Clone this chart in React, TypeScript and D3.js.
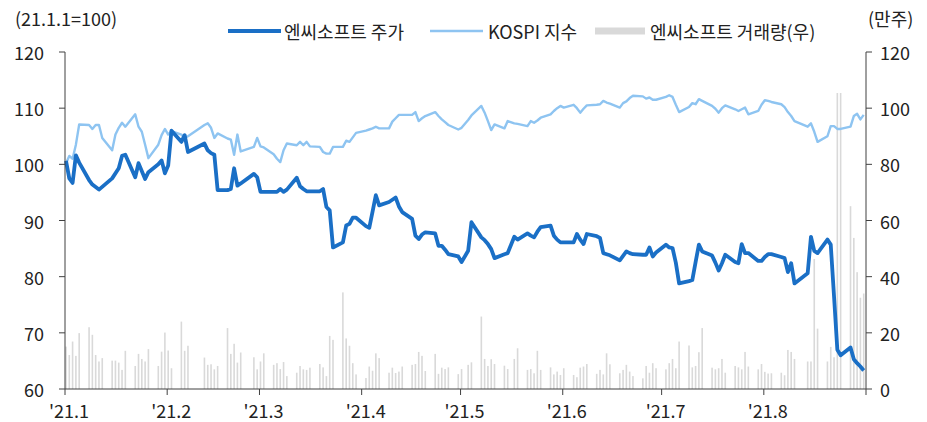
import React from "react";
import * as d3 from "d3";

// ---------- DATA ----------
const holidays = ["2021-02-11", "2021-02-12", "2021-03-01", "2021-05-05", "2021-05-19", "2021-08-16"];
const firstTradingDay = "2021-01-04";
const lastTradingDay = "2021-09-03";

// 엔씨소프트 거래량 (만주), one per trading day Jan 4 – Sep 3
const volume: number[] = [
  15.1, 12.1, 16.9, 11.8, 19.9,
  22.0, 19.3, 12.1, 9.8, 11.0,
  10.1, 10.1, 9.4, 6.8, 13.6,
  8.2, 12.5, 10.7, 9.8, 14.2,
  8.2, 13.3, 20.1, 13.7, 7.4,
  24.0, 13.6, 15.4,
  11.2, 8.6, 8.8, 7.0, 8.2,
  21.7, 12.5, 16.1, 9.4, 13.0,
  11.3, 7.0, 9.8, 12.7,
  8.6, 9.2, 7.1, 9.6, 4.6,
  5.8, 8.2, 7.0, 6.8, 7.6,
  8.9, 7.7, 4.6, 18.9, 17.5,
  34.4, 18.0, 15.4, 9.2, 5.2,
  3.9, 8.0, 6.5, 12.7, 11.0,
  5.8, 7.6, 5.7, 6.2, 8.0,
  8.6, 8.9, 13.2, 11.8, 6.4,
  12.5, 5.4, 7.6, 7.1, 7.7,
  5.3, 7.1, 8.6, 9.5,
  25.8, 10.7, 8.2, 10.6, 8.9,
  8.3, 7.1, 10.7, 14.5,
  6.8, 7.1, 5.6, 13.6, 6.8,
  7.7, 5.2, 6.2, 5.0, 7.4,
  5.0, 4.2, 7.6, 8.0, 8.9,
  5.4, 6.8, 5.2, 12.7, 8.8,
  5.6, 6.8, 8.6, 6.2, 4.6,
  3.8, 8.2, 5.8, 9.2, 7.4,
  7.0, 9.2, 10.7, 7.4, 16.9,
  15.5, 7.7, 8.2, 13.1, 21.7,
  7.6, 7.0, 7.4, 10.7, 5.8,
  8.2, 7.7, 7.0, 13.2, 8.0,
  7.0, 8.9, 6.1, 5.5, 5.6,
  5.8, 4.9, 13.9, 13.2, 10.7,
  9.8, 9.8, 46.3, 21.5,
  9.8, 15.0, 11.3, 105.4, 105.4,
  65.1, 53.8, 41.6, 32.5, 34.0,
];

// 엔씨소프트 주가 (21.1.1=100)
const ncPrice: [string, number][] = [
  ["2021-01-04", 100.6], ["2021-01-05", 97.5], ["2021-01-06", 96.7], ["2021-01-07", 101.6], ["2021-01-08", 100.3],
  ["2021-01-11", 97.2], ["2021-01-12", 96.4], ["2021-01-14", 95.5], ["2021-01-18", 97.5], ["2021-01-20", 99.3],
  ["2021-01-21", 101.5], ["2021-01-22", 101.7], ["2021-01-25", 97.7], ["2021-01-26", 100.2], ["2021-01-28", 97.4],
  ["2021-01-29", 98.6], ["2021-02-01", 100.0], ["2021-02-02", 100.7], ["2021-02-03", 98.4], ["2021-02-04", 99.8],
  ["2021-02-05", 106.0], ["2021-02-08", 104.0], ["2021-02-09", 105.2], ["2021-02-10", 102.2], ["2021-02-15", 103.7],
  ["2021-02-16", 102.5], ["2021-02-17", 102.0], ["2021-02-18", 101.7], ["2021-02-19", 95.4], ["2021-02-22", 95.4],
  ["2021-02-23", 95.6], ["2021-02-24", 99.3], ["2021-02-25", 96.2], ["2021-02-26", 96.6], ["2021-03-02", 98.3],
  ["2021-03-03", 97.7], ["2021-03-04", 95.1], ["2021-03-05", 95.1], ["2021-03-08", 95.1], ["2021-03-09", 95.1],
  ["2021-03-10", 95.6], ["2021-03-11", 95.1], ["2021-03-12", 95.5], ["2021-03-15", 97.6], ["2021-03-16", 96.1],
  ["2021-03-17", 95.6], ["2021-03-18", 95.2], ["2021-03-19", 95.2], ["2021-03-22", 95.2], ["2021-03-23", 95.6],
  ["2021-03-24", 92.4], ["2021-03-25", 91.8], ["2021-03-26", 85.2], ["2021-03-29", 86.1], ["2021-03-30", 89.1],
  ["2021-03-31", 89.4], ["2021-04-01", 90.5], ["2021-04-02", 90.5], ["2021-04-05", 89.0], ["2021-04-06", 88.7],
  ["2021-04-07", 91.6], ["2021-04-08", 94.5], ["2021-04-09", 92.7], ["2021-04-12", 93.3], ["2021-04-13", 93.7],
  ["2021-04-14", 94.1], ["2021-04-15", 92.5], ["2021-04-16", 91.5], ["2021-04-19", 90.3], ["2021-04-20", 87.3],
  ["2021-04-21", 86.7], ["2021-04-22", 87.5], ["2021-04-23", 87.9], ["2021-04-26", 87.7], ["2021-04-27", 85.5],
  ["2021-04-28", 85.5], ["2021-04-29", 84.8], ["2021-04-30", 84.0], ["2021-05-03", 83.6], ["2021-05-04", 82.6],
  ["2021-05-06", 84.6], ["2021-05-07", 89.7], ["2021-05-10", 87.0], ["2021-05-11", 86.5], ["2021-05-12", 85.8],
  ["2021-05-13", 84.9], ["2021-05-14", 83.3], ["2021-05-17", 84.0], ["2021-05-18", 84.2], ["2021-05-20", 87.1],
  ["2021-05-21", 86.6], ["2021-05-24", 87.7], ["2021-05-25", 87.3], ["2021-05-26", 87.0], ["2021-05-27", 88.0],
  ["2021-05-28", 88.8], ["2021-05-31", 89.1], ["2021-06-01", 87.3], ["2021-06-02", 86.6], ["2021-06-03", 86.1],
  ["2021-06-04", 86.1], ["2021-06-07", 86.1], ["2021-06-08", 87.6], ["2021-06-09", 86.6], ["2021-06-10", 85.8],
  ["2021-06-11", 87.6], ["2021-06-14", 87.2], ["2021-06-15", 86.9], ["2021-06-16", 84.2], ["2021-06-17", 84.0],
  ["2021-06-18", 83.8], ["2021-06-21", 82.9], ["2021-06-22", 83.7], ["2021-06-23", 84.5], ["2021-06-24", 84.2],
  ["2021-06-25", 84.0], ["2021-06-28", 83.9], ["2021-06-29", 83.9], ["2021-06-30", 85.2], ["2021-07-01", 83.6],
  ["2021-07-02", 84.3], ["2021-07-05", 85.7], ["2021-07-06", 85.2], ["2021-07-07", 85.1], ["2021-07-08", 82.5],
  ["2021-07-09", 78.8], ["2021-07-12", 79.2], ["2021-07-13", 79.4], ["2021-07-14", 82.6], ["2021-07-15", 85.7],
  ["2021-07-16", 84.5], ["2021-07-19", 83.75], ["2021-07-20", 82.5], ["2021-07-21", 81.1], ["2021-07-22", 82.4],
  ["2021-07-23", 83.9], ["2021-07-26", 82.6], ["2021-07-27", 82.4], ["2021-07-28", 85.8], ["2021-07-29", 84.2],
  ["2021-07-30", 84.2], ["2021-08-02", 82.8], ["2021-08-03", 82.8], ["2021-08-04", 83.5], ["2021-08-05", 84.0],
  ["2021-08-06", 84.0], ["2021-08-09", 83.5], ["2021-08-10", 83.3], ["2021-08-11", 80.8], ["2021-08-12", 82.4],
  ["2021-08-13", 78.8], ["2021-08-17", 80.6], ["2021-08-18", 87.1], ["2021-08-19", 84.6], ["2021-08-20", 84.2],
  ["2021-08-23", 86.6], ["2021-08-24", 85.7], ["2021-08-25", 76.5], ["2021-08-26", 67.0], ["2021-08-27", 66.0],
  ["2021-08-30", 67.4], ["2021-08-31", 65.3], ["2021-09-01", 64.6], ["2021-09-02", 64.0], ["2021-09-03", 63.3],
];

// KOSPI 지수 (21.1.1=100)
const kospi: [string, number][] = [
  ["2021-01-04", 100.2], ["2021-01-05", 101.5], ["2021-01-06", 101.0], ["2021-01-07", 103.5], ["2021-01-08", 107.1],
  ["2021-01-11", 107.0], ["2021-01-12", 106.3], ["2021-01-13", 107.0], ["2021-01-14", 107.0], ["2021-01-15", 104.7],
  ["2021-01-18", 102.5], ["2021-01-19", 105.3], ["2021-01-20", 106.5], ["2021-01-21", 107.4], ["2021-01-22", 106.7],
  ["2021-01-25", 108.9], ["2021-01-26", 106.7], ["2021-01-27", 105.8], ["2021-01-28", 103.5], ["2021-01-29", 101.1],
  ["2021-02-01", 103.5], ["2021-02-02", 105.2], ["2021-02-03", 106.3], ["2021-02-04", 105.3], ["2021-02-05", 105.9],
  ["2021-02-08", 105.3], ["2021-02-09", 104.7], ["2021-02-10", 105.0], ["2021-02-15", 107.0], ["2021-02-16", 107.3],
  ["2021-02-17", 106.5], ["2021-02-18", 104.7], ["2021-02-19", 105.5], ["2021-02-22", 104.6], ["2021-02-23", 104.4],
  ["2021-02-24", 101.7], ["2021-02-25", 105.3], ["2021-02-26", 102.3], ["2021-03-02", 103.1], ["2021-03-03", 104.7],
  ["2021-03-04", 103.2], ["2021-03-05", 103.0], ["2021-03-08", 101.8], ["2021-03-09", 101.0], ["2021-03-10", 100.4],
  ["2021-03-11", 102.5], ["2021-03-12", 103.7], ["2021-03-15", 103.4], ["2021-03-16", 104.0], ["2021-03-17", 103.4],
  ["2021-03-18", 104.0], ["2021-03-19", 103.2], ["2021-03-22", 103.1], ["2021-03-23", 102.2], ["2021-03-24", 101.9],
  ["2021-03-25", 101.9], ["2021-03-26", 103.1], ["2021-03-29", 103.1], ["2021-03-30", 104.2], ["2021-03-31", 104.0],
  ["2021-04-01", 104.8], ["2021-04-02", 105.6], ["2021-04-05", 106.0], ["2021-04-06", 106.2], ["2021-04-07", 106.4],
  ["2021-04-08", 106.7], ["2021-04-09", 106.4], ["2021-04-12", 106.4], ["2021-04-13", 107.6], ["2021-04-14", 108.2],
  ["2021-04-15", 108.8], ["2021-04-16", 108.8], ["2021-04-19", 108.8], ["2021-04-20", 109.3], ["2021-04-21", 107.7],
  ["2021-04-22", 108.2], ["2021-04-23", 108.6], ["2021-04-26", 109.3], ["2021-04-27", 108.6], ["2021-04-28", 108.0],
  ["2021-04-29", 107.5], ["2021-04-30", 107.0], ["2021-05-03", 106.2], ["2021-05-04", 106.5], ["2021-05-06", 107.9],
  ["2021-05-07", 108.7], ["2021-05-10", 110.4], ["2021-05-11", 109.2], ["2021-05-12", 107.7], ["2021-05-13", 106.1],
  ["2021-05-14", 107.1], ["2021-05-17", 106.4], ["2021-05-18", 107.7], ["2021-05-20", 107.3], ["2021-05-21", 107.2],
  ["2021-05-24", 106.8], ["2021-05-25", 107.7], ["2021-05-26", 107.4], ["2021-05-27", 107.8], ["2021-05-28", 108.3],
  ["2021-05-31", 108.9], ["2021-06-01", 109.5], ["2021-06-02", 110.0], ["2021-06-03", 110.4], ["2021-06-04", 110.1],
  ["2021-06-07", 110.6], ["2021-06-08", 110.0], ["2021-06-09", 109.2], ["2021-06-10", 109.9], ["2021-06-11", 110.5],
  ["2021-06-14", 110.6], ["2021-06-15", 110.7], ["2021-06-16", 111.3], ["2021-06-17", 111.0], ["2021-06-18", 110.8],
  ["2021-06-21", 110.1], ["2021-06-22", 110.9], ["2021-06-23", 111.2], ["2021-06-24", 111.8], ["2021-06-25", 112.2],
  ["2021-06-28", 112.1], ["2021-06-29", 111.7], ["2021-06-30", 111.9], ["2021-07-01", 111.5], ["2021-07-02", 111.5],
  ["2021-07-05", 112.0], ["2021-07-06", 112.3], ["2021-07-07", 112.0], ["2021-07-08", 110.6], ["2021-07-09", 109.3],
  ["2021-07-12", 110.2], ["2021-07-13", 110.9], ["2021-07-14", 110.7], ["2021-07-15", 111.6], ["2021-07-16", 111.3],
  ["2021-07-19", 110.4], ["2021-07-20", 109.9], ["2021-07-21", 109.2], ["2021-07-22", 110.0], ["2021-07-23", 110.5],
  ["2021-07-26", 109.8], ["2021-07-27", 109.5], ["2021-07-28", 109.8], ["2021-07-29", 110.1], ["2021-07-30", 108.9],
  ["2021-08-02", 109.5], ["2021-08-03", 110.6], ["2021-08-04", 111.4], ["2021-08-05", 111.3], ["2021-08-06", 111.1],
  ["2021-08-09", 110.7], ["2021-08-10", 110.2], ["2021-08-11", 109.3], ["2021-08-12", 108.6], ["2021-08-13", 107.7],
  ["2021-08-17", 106.7], ["2021-08-18", 107.3], ["2021-08-19", 105.8], ["2021-08-20", 104.0], ["2021-08-23", 105.0],
  ["2021-08-24", 106.8], ["2021-08-25", 106.8], ["2021-08-26", 106.3], ["2021-08-27", 106.3], ["2021-08-30", 106.7],
  ["2021-08-31", 108.6], ["2021-09-01", 109.0], ["2021-09-02", 108.0], ["2021-09-03", 108.8],
];

const xDomain = ["2021-01-04", "2021-09-04"];
const xTickDates = ["2021-01-04", "2021-02-04", "2021-03-04", "2021-04-04", "2021-05-04", "2021-06-04", "2021-07-04", "2021-08-04", "2021-09-04"];
const xTickLabels = ["'21.1", "'21.2", "'21.3", "'21.4", "'21.5", "'21.6", "'21.7", "'21.8", ""];
const leftTicks = [60, 70, 80, 90, 100, 110, 120];
const rightTicks = [0, 20, 40, 60, 80, 100, 120];
const leftTitle = "(21.1.1=100)";
const rightTitle = "(만주)";
const seriesNames = ["엔씨소프트 주가", "KOSPI 지수", "엔씨소프트 거래량(우)"];

// ---------- STYLE ----------
const FONT = "'Noto Sans CJK KR', 'Noto Sans', sans-serif";
const NC_COLOR = "#1a6fc6";
const KOSPI_COLOR = "#8ec4f1";
const VOL_COLOR = "#d9d9d9";
const AXIS_COLOR = "#404040";
const TEXT_COLOR = "#222";
const FS = 18;

const parse = d3.timeParse("%Y-%m-%d");

export default function App() {
  const W = 927, H = 422;
  const left = 65, right = 866, top = 52, bottom = 389;

  const x = d3.scaleTime().domain(xDomain.map((s) => parse(s) as Date)).range([left, right]);
  const yL = d3.scaleLinear().domain([60, 120]).range([bottom, top]);
  const yR = d3.scaleLinear().domain([0, 120]).range([bottom, top]);
  const shift = 1;

  const holidaySet = new Set(holidays);
  const fmt = d3.timeFormat("%Y-%m-%d");
  const tradingDays = d3.timeDay
    .range(parse(firstTradingDay) as Date, d3.timeDay.offset(parse(lastTradingDay) as Date, 1))
    .filter((d) => d.getDay() !== 0 && d.getDay() !== 6 && !holidaySet.has(fmt(d)));

  const line = d3
    .line<[string, number]>()
    .x((d) => x(parse(d[0]) as Date) + shift)
    .y((d) => yL(d[1]))
    .curve(d3.curveLinear);

  return (
    <svg width={W} height={H} style={{ display: "block", position: "absolute", left: 0, top: 0 }} fontFamily={FONT}>
      <rect width={W} height={H} fill="#fff" />
      {/* volume bars */}
      <g>
        {tradingDays.map((d, i) =>
          i < volume.length ? (
            <rect
              key={i}
              x={x(d) + shift - 0.8}
              y={yR(volume[i])}
              width={1.6}
              height={bottom - yR(volume[i])}
              fill={VOL_COLOR}
            />
          ) : null
        )}
      </g>
      {/* lines */}
      <path d={line(kospi) || ""} fill="none" stroke={KOSPI_COLOR} strokeWidth={2.4} strokeLinejoin="round" />
      <path d={line(ncPrice) || ""} fill="none" stroke={NC_COLOR} strokeWidth={3.8} strokeLinejoin="round" />

      {/* axes */}
      <g stroke={AXIS_COLOR} strokeWidth={1}>
        <line x1={left} x2={left} y1={top} y2={bottom} />
        <line x1={right} x2={right} y1={top} y2={bottom} />
        <line x1={left} x2={right} y1={bottom} y2={bottom} />
        {leftTicks.map((t) => (
          <line key={"l" + t} x1={left - 6} x2={left} y1={yL(t)} y2={yL(t)} />
        ))}
        {rightTicks.map((t) => (
          <line key={"r" + t} x1={right} x2={right + 6} y1={yR(t)} y2={yR(t)} />
        ))}
        {xTickDates.map((s) => {
          const xx = x(parse(s) as Date);
          return <line key={"x" + s} x1={xx} x2={xx} y1={bottom} y2={bottom + 6} />;
        })}
      </g>
      <g fill={TEXT_COLOR} fontSize={FS}>
        {leftTicks.map((t) => (
          <text key={"lt" + t} x={44} y={yL(t)} textAnchor="end" dominantBaseline="central">
            {t}
          </text>
        ))}
        {rightTicks.map((t) => (
          <text key={"rt" + t} x={880} y={yR(t)} textAnchor="start" dominantBaseline="central">
            {t}
          </text>
        ))}
        {xTickDates.map((s, i) => (
          <text key={"xt" + s} x={x(parse(s) as Date) + 4} y={410} textAnchor="middle" dominantBaseline="central">
            {xTickLabels[i]}
          </text>
        ))}
        <text x={15} y={18} dominantBaseline="central">{leftTitle}</text>
        <text x={868} y={18} dominantBaseline="central">{rightTitle}</text>
      </g>

      {/* legend */}
      <g fontSize={FS} fill={TEXT_COLOR}>
        <line x1={228} x2={281} y1={31} y2={31} stroke={NC_COLOR} strokeWidth={3.8} />
        <text x={284} y={31} dominantBaseline="central">{seriesNames[0]}</text>
        <line x1={430} x2={483} y1={31} y2={31} stroke={KOSPI_COLOR} strokeWidth={2.4} />
        <text x={488} y={31} dominantBaseline="central">{seriesNames[1]}</text>
        <rect x={595} y={27.5} width={50} height={7} fill={VOL_COLOR} />
        <text x={650} y={31} dominantBaseline="central">{seriesNames[2]}</text>
      </g>
    </svg>
  );
}
